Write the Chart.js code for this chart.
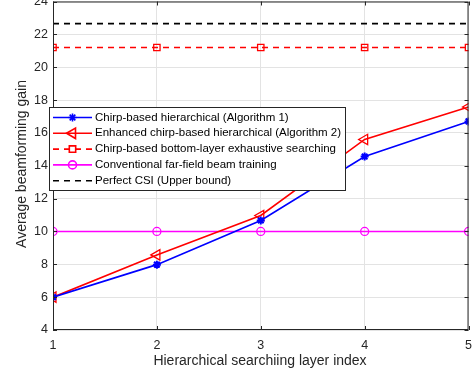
<!DOCTYPE html>
<html lang="en">
  <head>
    <meta charset="UTF-8" />
    <title>Average beamforming gain vs layer index</title>
    <script src="https://cdn.jsdelivr.net/npm/chart.js"></script>
    <style>
      html, body { margin: 0; padding: 0; background: #fff; overflow: hidden; }
    </style>
  </head>
  <body>
    <!-- shifted up a little so the top tick label gets clipped, as in the original -->
    <div style="width: 480px; height: 387px; margin-top: -11px">
      <canvas id="gainChart"></canvas>
    </div>
    <script>
      // values
      const layers = [1, 2, 3, 4, 5];
      const alg1Gain = [6.0, 7.98, 10.67, 14.56, 16.7];
      const alg2Gain = [6.0, 8.57, 10.97, 15.6, 17.58];
      const exhaustiveGain = [21.2, 21.2, 21.2, 21.2, 21.2];
      const farFieldGain = [10, 10, 10, 10, 10];
      const perfectGain = [22.65, 22.65, 22.65, 22.65, 22.65];
      const yTicks = [4, 6, 8, 10, 12, 14, 16, 18, 20, 22, 24];

      const pts = (ys) => layers.map((x, i) => ({ x: x, y: ys[i] }));
      const FONT = "'Liberation Sans', Arial, sans-serif";
      const TXT = "#262626";
      const SHIFT = 11;

      const datasets = [
        {
          label: "Chirp-based hierarchical (Algorithm 1)",
          data: pts(alg1Gain),
          borderColor: "#0000ff",
          backgroundColor: "#0000ff",
          borderWidth: 1.6,
          pointStyle: "star",
          pointRadius: 4,
          pointBorderWidth: 2,
        },
        {
          label: "Enhanced chirp-based hierarchical (Algorithm 2)",
          data: pts(alg2Gain),
          borderColor: "#ff0000",
          backgroundColor: "rgba(0,0,0,0)",
          borderWidth: 1.6,
          pointStyle: "triangle",
          rotation: -90,
          pointRadius: 6,
          pointBorderWidth: 1.3,
        },
        {
          label: "Chirp-based bottom-layer exhaustive searching",
          data: pts(exhaustiveGain),
          borderColor: "#ff0000",
          backgroundColor: "rgba(0,0,0,0)",
          borderWidth: 1.6,
          borderDash: [6, 5],
          pointStyle: "rect",
          pointRadius: 4.5,
          pointBorderWidth: 1.3,
        },
        {
          label: "Conventional far-field beam training",
          data: pts(farFieldGain),
          borderColor: "#ff00ff",
          backgroundColor: "rgba(0,0,0,0)",
          borderWidth: 1.6,
          pointStyle: "circle",
          pointRadius: 4,
          pointBorderWidth: 1.3,
        },
        {
          label: "Perfect CSI (Upper bound)",
          data: pts(perfectGain),
          borderColor: "#000000",
          backgroundColor: "#000000",
          borderWidth: 1.6,
          borderDash: [6, 5],
          pointRadius: 0,
        },
      ];

      // box, inner tick marks, axis titles and legend like the original figure
      const frame = {
        id: "frame",
        afterDraw(chart) {
          const { ctx, chartArea: a, scales } = chart;
          ctx.save();
          ctx.strokeStyle = TXT;
          ctx.lineWidth = 1;
          ctx.strokeRect(a.left + 0.5, a.top + 0.5, a.right - a.left - 1, a.bottom - a.top - 1);
          ctx.beginPath();
          layers.forEach((v) => {
            const x = Math.round(scales.x.getPixelForValue(v)) + 0.5;
            ctx.moveTo(x, a.bottom); ctx.lineTo(x, a.bottom - 4);
            ctx.moveTo(x, a.top); ctx.lineTo(x, a.top + 4);
          });
          yTicks.forEach((v) => {
            const y = Math.round(scales.y.getPixelForValue(v)) + 0.5;
            ctx.moveTo(a.left, y); ctx.lineTo(a.left + 4, y);
            ctx.moveTo(a.right, y); ctx.lineTo(a.right - 4, y);
          });
          ctx.stroke();

          ctx.fillStyle = TXT;
          ctx.font = "14px " + FONT;
          ctx.textAlign = "center";
          ctx.textBaseline = "middle";
          ctx.fillText("Hierarchical searchiing layer index", 260, 361 + SHIFT);
          ctx.translate(22, 164 + SHIFT);
          ctx.rotate(-Math.PI / 2);
          ctx.fillText("Average beamforming gain", 0, 0);
          ctx.restore();

          // legend box inside the plot
          const bx = 49, by = 107 + SHIFT, bw = 296, bh = 83;
          ctx.save();
          ctx.fillStyle = "#fff";
          ctx.fillRect(bx, by, bw, bh);
          ctx.strokeStyle = "#262626";
          ctx.lineWidth = 1;
          ctx.strokeRect(bx + 0.5, by + 0.5, bw, bh);
          ctx.font = "11.5px " + FONT;
          ctx.textAlign = "left";
          ctx.textBaseline = "middle";
          datasets.forEach((d, i) => {
            const y = by + 10.5 + i * 15.8;
            ctx.save();
            ctx.strokeStyle = d.borderColor;
            ctx.lineWidth = d.borderWidth;
            ctx.setLineDash(d.borderDash || []);
            ctx.beginPath();
            ctx.moveTo(53, y); ctx.lineTo(92, y);
            ctx.stroke();
            ctx.setLineDash([]);
            if (d.pointRadius > 0) {
              ctx.fillStyle = d.backgroundColor;
              Chart.helpers.drawPoint(ctx, {
                pointStyle: d.pointStyle,
                rotation: d.rotation || 0,
                radius: d.pointRadius,
                borderWidth: d.pointBorderWidth,
              }, 72.5, y);
            }
            ctx.restore();
            ctx.fillStyle = "#000";
            ctx.fillText(d.label, 95, y);
          });
          ctx.restore();
        },
      };

      new Chart(document.getElementById("gainChart"), {
        type: "line",
        data: { datasets: datasets },
        options: {
          responsive: true,
          maintainAspectRatio: false,
          animation: false,
          layout: { padding: { top: 0, right: 2, left: 0, bottom: 0 } },
          plugins: {
            legend: { display: false },
            tooltip: { enabled: false },
          },
          scales: {
            x: {
              type: "linear",
              min: 1,
              max: 5,
              afterBuildTicks: (s) => { s.ticks = layers.map((v) => ({ value: v })); },
              afterFit: (s) => { s.height = 46; },
              grid: { color: "#e3e3e3", tickLength: 0 },
              border: { display: false },
              ticks: { color: TXT, font: { size: 12.5, family: FONT }, padding: 8, maxRotation: 0 },
            },
            y: {
              min: 4,
              max: 24,
              afterBuildTicks: (s) => { s.ticks = yTicks.map((v) => ({ value: v })); },
              afterFit: (s) => { s.width = 53; },
              grid: { color: "#e3e3e3", tickLength: 0 },
              border: { display: false },
              ticks: { color: TXT, font: { size: 12.5, family: FONT }, padding: 5 },
            },
          },
        },
        plugins: [frame],
      });
    </script>
  </body>
</html>
